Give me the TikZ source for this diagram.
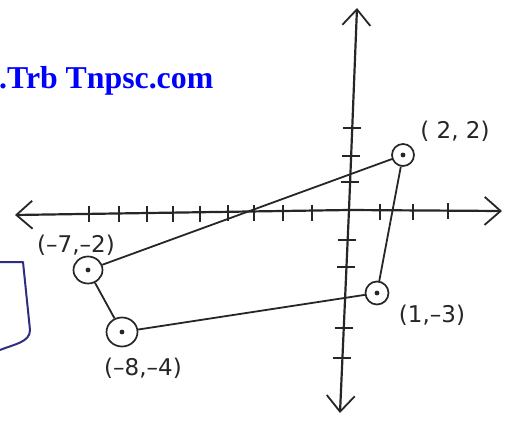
\documentclass[tikz,border=0pt]{standalone}
\usepackage{fontspec}
\newfontfamily\webfont{Liberation Serif}
\newfontfamily\handfont{DejaVu Sans}
\usetikzlibrary{arrows.meta,shapes.geometric}
\definecolor{ink}{HTML}{262626}
\definecolor{bluebox}{HTML}{2E2E80}
\tikzset{
  axis/.style={draw=ink, line width=2.2pt, -{Straight Barb[length=16pt, width=28pt, line width=1.8pt]}},
  edge/.style={draw=ink, line width=1.8pt},
  pt/.style={circle, draw=ink, line width=1.7pt, inner sep=0pt},
  lbl/.style={font=\handfont\fontsize{23}{23}\selectfont, text=ink, inner sep=0pt},
  tick/.style={draw=ink, line width=1.8pt},
}
\begin{document}
\begin{tikzpicture}[x=1pt,y=-1pt]
\useasboundingbox (0,0) rectangle (515,421);
\fill[white] (0,0) rectangle (515,421);
% watermark text
\node[anchor=base west, inner sep=0pt, text=blue, font=\webfont\bfseries\fontsize{31.8}{32}\selectfont] (wm) at (-1,88) {.Trb Tnpsc.com};
% blue box fragment
\draw[bluebox, line width=2pt, line join=round] (0,262) -- (23,262) -- (30,330) .. controls (30,342) and (15,344) .. (0,350);
% axes
\coordinate (xL) at (15,215);
\coordinate (xR) at (502,211);
\coordinate (ym) at (349,210);
\coordinate (yT) at (357,8);
\coordinate (yB) at (340,413);
\draw[axis] (ym) -- (xL);
\draw[axis] (ym) -- (xR);
\draw[axis] (ym) -- (yT);
\draw[axis] (ym) -- (yB);
% x ticks
\foreach \x/\y in {89/214.4,119/214.1,147/213.9,173/213.7,200/213.5,228/213.3,254/213.0,283/212.8,312/212.6,380/212.0,413/211.7,448/211.4}
  \draw[tick] (\x,\y-8) -- (\x,\y+8);
% y ticks
\foreach \y/\x in {128/352,156/350.8,182/349.7,240/347.3,267/346.1,328/343.6,358/342.3}
  \draw[tick] (\x-9,\y) -- (\x+9,\y);
% points
\node[pt, minimum size=22pt] (a) at (403,155) {};
\node[pt, ellipse, minimum width=29pt, minimum height=27pt] (b) at (88,270) {};
\node[pt, ellipse, minimum width=31pt, minimum height=29pt] (c) at (122,332) {};
\node[pt, minimum size=23pt] (d) at (377,293) {};
\foreach \n in {a,b,c,d} \fill[ink] (\n.center) circle (2.4pt);
% edges
\draw[edge] (b) -- (a);
\draw[edge] (a) -- (d);
\draw[edge] (d) -- (c);
\draw[edge] (c) -- (b);
% labels
\node[lbl] (la) at (455,131) {( 2, 2)};
\node[lbl] (lb) at (76,245) {(–7,–2)};
\node[lbl] (ld) at (432,315) {(1,–3)};
\node[lbl] (lc) at (143,368) {(–8,–4)};
\end{tikzpicture}
\end{document}
